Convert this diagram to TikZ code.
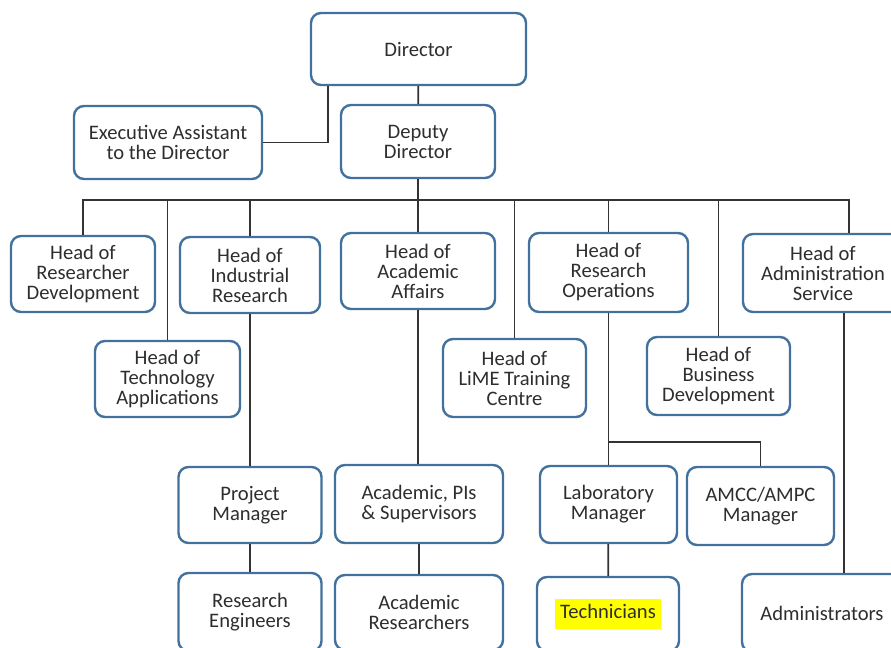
\documentclass[tikz,border=0pt]{standalone}
\usepackage{fontspec}
\setmainfont{Carlito}
\usepackage{xcolor}
\definecolor{frame}{HTML}{41719C}
\definecolor{ink}{HTML}{2E2E2E}
\definecolor{wire}{HTML}{333333}
\definecolor{marker}{HTML}{FFFF00}
\usetikzlibrary{positioning}
\tikzset{
  every picture/.style={font=\fontsize{10.3}{10}\selectfont, line width=0.9pt},
  box/.style={draw=frame, line width=1.2pt, rounded corners=5pt, fill=white, align=center, text=ink, inner sep=2pt, minimum height=38pt, minimum width=#1},
  box/.default=72pt,
  link/.style={draw=wire, line width=0.9pt},
}

\begin{document}
\begin{tikzpicture}[x=0.5pt, y=-0.5pt]
  \useasboundingbox (0,0) rectangle (891,648);
  \clip (0,0) rectangle (891,648);
  % top of the chart
  \node[box=107.5pt, minimum height=36pt] (dir) at (418.5,49) {Director};
  \node[box=94pt, minimum height=36.5pt] (ea) at (168,142.5) {Executive Assistant\\to the Director};
  \node[box=77pt, minimum height=36.5pt] (dep) at (418,141.5) {Deputy\\Director};
  % heads
  \node[box=72pt] (hrd) at (83,274) {Head of\\Researcher\\Development};
  \node[box=70pt] (hir) at (250,275) {Head of\\Industrial\\Research};
  \node[box=77pt] (haa) at (418,271) {Head of\\Academic\\Affairs};
  \node[box=79.5pt, minimum height=39.5pt] (hro) at (608.5,272.5) {Head of\\Research\\Operations};
  \node[box=80pt, minimum height=39pt] (has) at (823,273) {Head of\\Administration\\Service};
  \node[box=72.5pt] (hta) at (167.5,379) {Head of\\Technology\\Applications};
  \node[box=71.5pt, minimum height=39pt] (hlt) at (514.5,378) {Head of\\LiME Training\\Centre};
  \node[box=71.5pt, minimum height=39pt] (hbd) at (718.5,376) {Head of\\Business\\Development};
  % managers and staff
  \node[box=71.5pt] (pm) at (250,505) {Project\\Manager};
  \node[box=84pt, minimum height=39pt] (apis) at (419,504) {Academic, PIs\\\& Supervisors};
  \node[box=68.5pt, minimum height=38.5pt] (lm) at (608.5,504.5) {Laboratory\\Manager};
  \node[box=73.5pt, minimum height=39pt] (amcc) at (760.5,506) {AMCC/AMPC\\Manager};
  \node[box=71.5pt, minimum height=39pt] (re) at (250,612) {Research\\Engineers};
  \node[box=84pt, minimum height=37.5pt] (ar) at (419,612.5) {Academic\\Researchers};
  \node[box=71pt, minimum height=37pt] (tech) at (608,614) {\setlength{\fboxsep}{2.5pt}\colorbox{marker}{\strut Technicians}};
  \node[box=80pt, minimum height=39pt] (adm) at (822,613) {Administrators};
  \coordinate (busr) at (849,200);
  \coordinate (split) at (609,442);
  \coordinate (admx) at (844,0);
  \draw[link] ([xshift=9pt]dir.south west) |- (ea.east);
  \draw[link] (dir) -- (dep);
  \draw[link] (dep.south) -- (haa.north);
  \draw[link] (hrd.north) |- (busr) -- (busr |- has.north);
  \draw[link] (hta.north) -- (hta.north |- busr);
  \draw[link] (hir.north) -- (hir.north |- busr);
  \draw[link] (hlt.north) -- (hlt.north |- busr);
  \draw[link] (hro.north) -- (hro.north |- busr);
  \draw[link] (hbd.north) -- (hbd.north |- busr);
  \draw[link] (hir.south) -- (hir.south |- pm.north);
  \draw[link] (pm) -- (re);
  \draw[link] (haa.south) -- (haa.south |- apis.north);
  \draw[link] (apis) -- (ar);
  \draw[link] (hro.south) -- (hro.south |- lm.north);
  \draw[link] (split) -| (amcc.north);
  \draw[link] (lm) -- (tech);
  \draw[link] (has.south -| admx) -- (adm.north -| admx);
\end{tikzpicture}
\end{document}
